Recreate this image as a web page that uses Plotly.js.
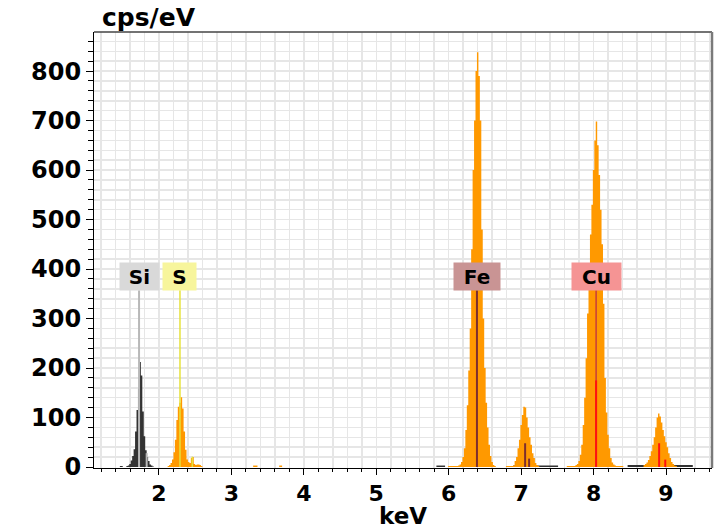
<!DOCTYPE html>
<html>
<head>
<meta charset="utf-8">
<script src="https://cdn.plot.ly/plotly-3.0.1.min.js"></script>
<style>html,body{margin:0;padding:0;background:#fff;}#chart{width:720px;height:530px;}</style>
</head>
<body>
<div id="chart"></div>
<script>
// ---- spectrum data (keV bin centres, counts per eV) ----
const siKeV   = [1.56,1.58,1.60,1.62,1.64,1.66,1.68,1.70,1.72,1.74,1.76,1.78,1.80,1.82,1.84,1.86,1.88,1.90,1.92];
const siCps   = [2,3,6,13,22,36,72,115,158,212,185,112,62,34,20,12,5,3,1];

const sKeV    = [2.13,2.15,2.17,2.19,2.21,2.23,2.25,2.27,2.29,2.31,2.33,2.35,2.37,2.39,2.41,2.43,2.45,2.47,2.49,2.51,2.53,2.55,2.57,2.59];
const sCps    = [2,4,8,15,30,55,95,122,130,141,118,72,35,15,10,8,18,20,6,4,5,5,4,2];

const bump1KeV = [3.31,3.33,3.35];
const bump1Cps = [3,3,3];
const bump2KeV = [3.67,3.69];
const bump2Cps = [3,3];

const feKaKeV = [6.00,6.02,6.04,6.06,6.08,6.10,6.12,6.14,6.16,6.18,6.20,6.22,6.24,6.26,6.28,6.30,6.32,6.34,6.36,6.38,6.40,6.42,6.44,6.46,6.48,6.50,6.52,6.54,6.56,6.58,6.60,6.62,6.64];
const feKaCps = [2,2,2,2,2,2,2,3,5,10,20,38,75,125,195,280,440,600,700,800,838,790,700,480,300,200,130,80,45,22,10,4,2];

const feKbKeV = [6.80,6.82,6.84,6.86,6.88,6.90,6.92,6.94,6.96,6.98,7.00,7.02,7.04,7.06,7.08,7.10,7.12,7.14,7.16,7.18,7.20,7.22,7.24];
const feKbCps = [2,2,2,2,2,3,12,20,38,55,85,105,122,120,100,80,60,45,28,18,8,4,2];

const cuKaKeV = [7.64,7.66,7.68,7.70,7.72,7.74,7.76,7.78,7.80,7.82,7.84,7.86,7.88,7.90,7.92,7.94,7.96,7.98,8.00,8.02,8.04,8.06,8.08,8.10,8.12,8.14,8.16,8.18,8.20,8.22,8.24,8.26,8.28,8.30,8.32,8.34,8.36,8.38,8.40];
const cuKaCps = [2,2,2,2,2,2,4,6,12,25,45,85,140,220,310,400,470,530,600,660,698,650,590,520,450,330,180,110,65,38,18,9,5,3,2,2,2,2,2];

const cuKbKeV = [8.70,8.72,8.74,8.76,8.78,8.80,8.82,8.84,8.86,8.88,8.90,8.92,8.94,8.96,8.98,9.00,9.02,9.04,9.06,9.08,9.10,9.12,9.14];
const cuKbCps = [4,6,9,14,22,32,45,60,80,100,108,102,90,75,62,50,40,28,18,10,6,3,2];

// dark background segments
const bgSegKeV = [[1.47,1.49],[5.84,5.86,5.88,5.90,5.92,5.94],[6.90,6.92,6.94,6.96,6.98,7.00,7.02,7.04,7.06,7.08,7.10,7.12,7.14,7.16,7.18,7.20,7.22,7.24,7.26,7.28,7.30,7.32,7.34,7.36,7.38,7.40,7.42,7.44,7.46,7.48,7.50],[8.48,8.50,8.52,8.54,8.56,8.58,8.60,8.62,8.64,8.66,8.68,8.70,8.72,8.74,8.76,8.78,8.80,8.82,8.84,8.86,8.88,8.90,8.92,8.94,8.96,8.98,9.00,9.02,9.04,9.06,9.08,9.10,9.12,9.14,9.16,9.18,9.20,9.22,9.24,9.26,9.28,9.30,9.32,9.34,9.36]];
const bgSegCps = [[2,2],[3,3,3,3,3,3],[3,3,3,3,3,3,3,3,3,3,3,3,3,3,3,3,3,3,3,3,3,3,3,3,3,3,3,3,3,3,3],[4,4,4,4,4,4,4,4,4,4,4,4,4,4,4,4,4,4,4,4,4,4,4,4,4,4,4,4,4,4,4,4,4,4,4,4,4,4,4,4,4,4,4,4,4]];

// element line markers
const markKeV = [1.725, 1.83, 2.29, 2.46, 6.39, 7.055, 7.11, 8.035, 8.035, 8.905, 8.99];
const markTop = [357, 28, 357, 21, 357, 48, 17, 357, 175, 48, 15];
const markElem = ['Si','Si','S','S','Fe','Fe','Fe','Cu','Cu2','Cu2','Cu2'];

// element labels
const labelText = ['Si','S','Fe','Cu'];
const labelKeV  = [1.725, 2.29, 6.39, 8.035];
const labelCps  = [385, 385, 385, 385];

// ---- styles ----
const ORANGE = '#ff9900';
const DARK = '#333333';
const markColors = {Si:'#b8b8b8', S:'#e6e23c', Fe:'#7d2e2e', Cu:'#c83c3c', Cu2:'#ff1010'};
const markWidths = {Si:2, S:1.5, Fe:2, Cu:1.5, Cu2:2};
const labelBg = {Si:'#d9d9d9', S:'#f7f59c', Fe:'#c99494', Cu:'#f59494'};
const labelW  = {Si:39, S:33, Fe:46, Cu:49};
const BIN = 0.02;

// histogram outline built from bin centres
function stepTrace(x, y, color) {
  const xx = [x[0] - BIN/2], yy = [0];
  for (let i = 0; i < x.length; i++) {
    xx.push(x[i] - BIN/2, x[i] + BIN/2);
    yy.push(y[i], y[i]);
  }
  xx.push(x[x.length-1] + BIN/2); yy.push(0);
  return {type:'scatter', mode:'lines', x:xx, y:yy, line:{width:0, color:color, simplify:false},
          fill:'toself', fillcolor:color, hoverinfo:'skip', showlegend:false};
}

const traces = [];
bgSegKeV.forEach((seg, i) => traces.push(stepTrace(seg, bgSegCps[i], DARK)));
[[sKeV,sCps],[bump1KeV,bump1Cps],[bump2KeV,bump2Cps],[feKaKeV,feKaCps],[feKbKeV,feKbCps],[cuKaKeV,cuKaCps],[cuKbKeV,cuKbCps]]
  .forEach(p => traces.push(stepTrace(p[0], p[1], ORANGE)));
traces.push(stepTrace(siKeV, siCps, DARK));

markKeV.forEach((k, i) => {
  const e = markElem[i];
  traces.push({type:'scatter', mode:'lines', x:[k,k], y:[0, markTop[i]],
    line:{color:markColors[e], width:markWidths[e]}, hoverinfo:'skip', showlegend:false});
});

const FONT = 'DejaVu Sans, Verdana, sans-serif';
const annotations = labelText.map((t, i) => ({
  x: labelKeV[i], y: labelCps[i], xref:'x', yref:'y', text: t, showarrow:false,
  xanchor:'center', yanchor:'middle', bgcolor: labelBg[t], borderpad:0,
  width: labelW[t], height: 27,
  font:{family:FONT, size:20, weight:'bold', color:'#000'}
}));
annotations.push({
  text:'cps/eV', xref:'paper', yref:'paper', x:0.089, y:1.034, xanchor:'center', yanchor:'middle',
  showarrow:false, font:{family:FONT, size:25, weight:'bold', color:'#000'}
});
// x-axis title placed as annotation below the tick labels
annotations.push({
  text:'keV', xref:'paper', yref:'paper', x:0.5, y:-0.142, xanchor:'center', yanchor:'bottom',
  showarrow:false, borderpad:0, font:{family:FONT, size:23, weight:'bold', color:'#000'}
});

const gridColor = '#e6e6e6';
const layout = {
  width:720, height:530,
  margin:{l:94, r:8, t:32, b:62},
  paper_bgcolor:'#fff', plot_bgcolor:'#fff',
  showlegend:false,
  xaxis:{
    range:[1.103, 9.635], tick0:0, dtick:1, ticks:'outside', ticklen:6, tickwidth:1, tickcolor:'#000',
    showline:true, linecolor:'#000', linewidth:1, zeroline:false,
    showgrid:true, gridcolor:gridColor, gridwidth:1.5,
    tickfont:{family:FONT, size:22, weight:'bold', color:'#000'},
    minor:{tick0:0, dtick:0.2, ticks:'outside', ticklen:3, tickcolor:'#000', showgrid:true, gridcolor:gridColor, gridwidth:1.5},
    fixedrange:true
  },
  yaxis:{
    range:[-2, 879], tick0:0, dtick:100, ticks:'outside', ticklen:7, tickwidth:1, tickcolor:'#000',
    showline:true, linecolor:'#000', linewidth:1, zeroline:false,
    showgrid:true, gridcolor:gridColor, gridwidth:1.5,
    tickfont:{family:FONT, size:24, weight:'bold', color:'#000'},
    minor:{tick0:0, dtick:20, ticks:'outside', ticklen:5, tickcolor:'#000', showgrid:true, gridcolor:gridColor, gridwidth:1.5},
    fixedrange:true
  },
  shapes:[
    {type:'line', xref:'paper', yref:'paper', x0:0, x1:1, y0:1, y1:1, line:{color:'#444', width:1.5}},
    {type:'line', xref:'paper', yref:'paper', x0:1, x1:1, y0:0, y1:1, line:{color:'#7a7a7a', width:2.5}}
  ],
  annotations: annotations
};

Plotly.newPlot('chart', traces, layout, {staticPlot:true, displayModeBar:false});
</script>
</body>
</html>
